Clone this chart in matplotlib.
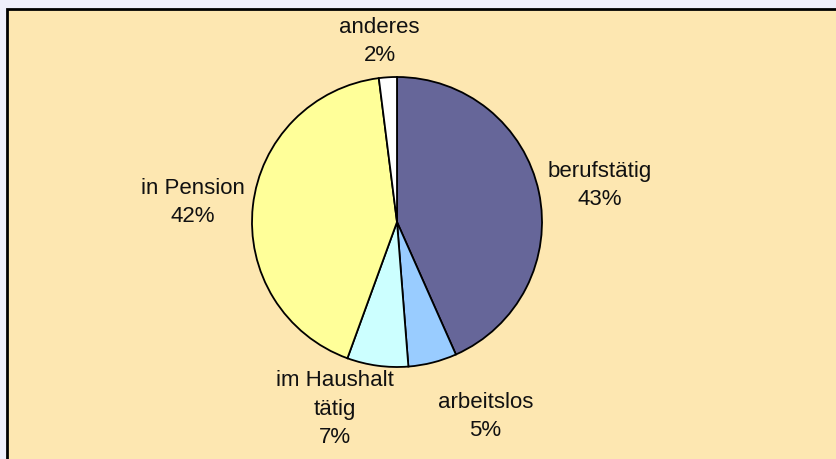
import numpy as np
import matplotlib.pyplot as plt
from matplotlib.patches import Rectangle

categories = ["berufstätig", "arbeitslos", "im Haushalt\ntätig", "in Pension", "anderes"]
shares = [43.3, 5.4, 6.8, 42.4, 2.0]
pct_labels = ["43%", "5%", "7%", "42%", "2%"]

colors = ["#666699", "#99CCFF", "#CCFFFF", "#FFFF99", "#FFFFFF"]
# label centres in pie units (radius = 1)
label_pos = [(1.40, 0.25), (0.61, -1.34), (-0.43, -1.29), (-1.41, 0.135), (-0.12, 1.245)]

plt.rcParams["font.family"] = ["Liberation Sans", "DejaVu Sans"]

W, H = 836, 459
fig = plt.figure(figsize=(W / 100, H / 100), dpi=100)
fig.patch.set_facecolor("#EFEFFB")

# chart area frame
fig.patches.append(Rectangle((7 / W, -0.05), 1.1, 1 - 9 / H + 0.05,
                             transform=fig.transFigure, facecolor="#FDE7B1",
                             edgecolor="black", linewidth=2, zorder=-5))

cx, cy, r = 397, H - 222, 145
half = 200
ax = fig.add_axes([(cx - half) / W, (cy - half) / H, 2 * half / W, 2 * half / H])
ax.set_zorder(2)

ax.pie(shares, colors=colors, startangle=90, counterclock=False, radius=1,
       wedgeprops=dict(edgecolor="black", linewidth=1.3))
ax.set_xlim(-half / r, half / r)
ax.set_ylim(-half / r, half / r)
ax.set_aspect("equal")
ax.axis("off")

for name, pct, (x, y) in zip(categories, pct_labels, label_pos):
    ax.text(x, y, name + "\n" + pct, ha="center", va="center", fontsize=16,
            linespacing=1.45, color="#111111")

fig.savefig("out.png", dpi=100, facecolor=fig.get_facecolor())
